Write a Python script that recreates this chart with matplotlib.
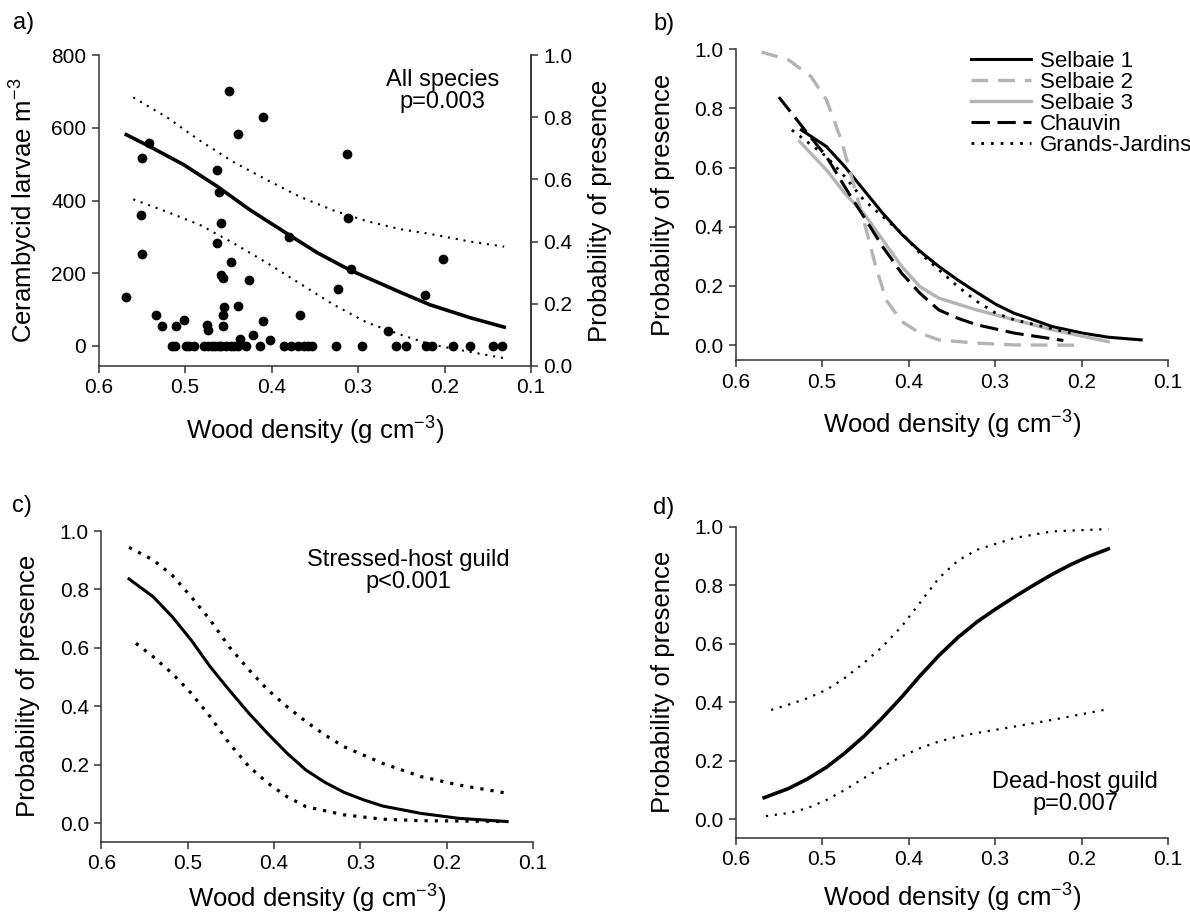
import numpy as np
import matplotlib
matplotlib.use("Agg")
import matplotlib.pyplot as plt

plt.rcParams['font.family'] = ['Liberation Sans', 'DejaVu Sans']
plt.rcParams['mathtext.default'] = 'regular'

# panel a - larvae counts vs wood density (scatter)
dens_a = [0.568, 0.542, 0.550, 0.551, 0.550, 0.534, 0.527, 0.510, 0.501, 0.475,
          0.473, 0.463, 0.461, 0.459, 0.463, 0.449, 0.439, 0.447, 0.458, 0.456,
          0.455, 0.456, 0.456, 0.439, 0.426, 0.436, 0.422, 0.410, 0.410, 0.402,
          0.380, 0.367, 0.323, 0.313, 0.312, 0.308, 0.265, 0.223, 0.202,
          # zero counts
          0.515, 0.512, 0.499, 0.495, 0.490, 0.478, 0.474, 0.469, 0.465, 0.461,
          0.458, 0.453, 0.447, 0.443, 0.439, 0.430, 0.413, 0.386, 0.378, 0.370,
          0.363, 0.358, 0.353, 0.326, 0.295, 0.256, 0.245, 0.221, 0.214, 0.190,
          0.170, 0.144, 0.133]
larvae_a = [135, 559, 518, 361, 252, 84, 54, 54, 71, 58,
            43, 484, 423, 337, 284, 700, 584, 230, 196, 186,
            107, 85, 55, 111, 182, 18, 29, 68, 631, 16,
            299, 84, 157, 528, 351, 212, 40, 141, 238,
            0, 0, 0, 0, 0, 0, 0, 0, 0, 0,
            0, 0, 0, 0, 0, 0, 0, 0, 0, 0,
            0, 0, 0, 0, 0, 0, 0, 0, 0, 0,
            0, 0, 0]

# panel a - probability of presence (right axis)
fit_a_x = [0.568, 0.541, 0.502, 0.463, 0.425, 0.380, 0.347, 0.309, 0.251, 0.217, 0.170, 0.131]
fit_a_y = [0.744, 0.706, 0.648, 0.578, 0.502, 0.422, 0.364, 0.308, 0.237, 0.197, 0.155, 0.125]
up_a_x = [0.560, 0.521, 0.483, 0.444, 0.405, 0.367, 0.328, 0.290, 0.251, 0.217, 0.170, 0.131]
up_a_y = [0.864, 0.800, 0.725, 0.656, 0.598, 0.544, 0.500, 0.466, 0.440, 0.425, 0.400, 0.384]
lo_a_x = [0.560, 0.521, 0.483, 0.444, 0.405, 0.370, 0.330, 0.290, 0.250, 0.217, 0.170, 0.131]
lo_a_y = [0.536, 0.496, 0.454, 0.395, 0.331, 0.270, 0.200, 0.140, 0.100, 0.070, 0.045, 0.025]

# panel b - sites
sites = ['Selbaie 1', 'Selbaie 2', 'Selbaie 3', 'Chauvin', 'Grands-Jardins']
s1_x = [0.524, 0.495, 0.474, 0.452, 0.430, 0.408, 0.387, 0.365, 0.343, 0.321, 0.299, 0.278, 0.256, 0.234, 0.199, 0.169, 0.131]
s1_y = [0.727, 0.671, 0.604, 0.525, 0.446, 0.375, 0.318, 0.266, 0.220, 0.178, 0.138, 0.108, 0.086, 0.063, 0.041, 0.027, 0.018]
s2_x = [0.570, 0.539, 0.513, 0.495, 0.478, 0.465, 0.452, 0.439, 0.426, 0.408, 0.387, 0.365, 0.321, 0.278, 0.208]
s2_y = [0.990, 0.964, 0.908, 0.829, 0.694, 0.559, 0.423, 0.277, 0.153, 0.080, 0.041, 0.018, 0.007, 0.001, 0.0]
s3_x = [0.526, 0.495, 0.474, 0.452, 0.430, 0.408, 0.387, 0.365, 0.321, 0.278, 0.234, 0.169]
s3_y = [0.688, 0.592, 0.514, 0.446, 0.356, 0.266, 0.198, 0.159, 0.119, 0.086, 0.052, 0.012]
ch_x = [0.550, 0.517, 0.495, 0.474, 0.452, 0.430, 0.408, 0.387, 0.365, 0.343, 0.321, 0.278, 0.221]
ch_y = [0.838, 0.716, 0.637, 0.536, 0.435, 0.333, 0.243, 0.176, 0.119, 0.091, 0.069, 0.041, 0.016]
gj_x = [0.535, 0.495, 0.474, 0.452, 0.430, 0.408, 0.387, 0.365, 0.343, 0.321, 0.299, 0.278, 0.212]
gj_y = [0.727, 0.637, 0.570, 0.491, 0.435, 0.378, 0.311, 0.255, 0.198, 0.148, 0.108, 0.086, 0.041]

# panel c - stressed-host guild
c_x = [0.568, 0.540, 0.518, 0.496, 0.474, 0.452, 0.429, 0.407, 0.385, 0.363, 0.341, 0.319, 0.296, 0.274, 0.230, 0.186, 0.130]
c_fit = [0.836, 0.775, 0.707, 0.627, 0.536, 0.456, 0.376, 0.306, 0.240, 0.182, 0.140, 0.106, 0.080, 0.059, 0.034, 0.017, 0.006]
c_up_x = [0.568, 0.540, 0.518, 0.496, 0.474, 0.452, 0.429, 0.407, 0.385, 0.363, 0.341, 0.319, 0.274, 0.230, 0.186, 0.130]
c_up = [0.944, 0.901, 0.849, 0.775, 0.696, 0.604, 0.525, 0.456, 0.399, 0.348, 0.302, 0.262, 0.205, 0.160, 0.131, 0.103]
c_lo_x = [0.560, 0.540, 0.518, 0.496, 0.474, 0.452, 0.429, 0.407, 0.385, 0.363, 0.319, 0.274, 0.230, 0.130]
c_lo = [0.616, 0.570, 0.513, 0.445, 0.365, 0.274, 0.194, 0.137, 0.091, 0.057, 0.029, 0.014, 0.009, 0.006]

# panel d - dead-host guild
d_x = [0.567, 0.539, 0.517, 0.495, 0.474, 0.452, 0.430, 0.408, 0.387, 0.365, 0.343, 0.321, 0.299, 0.278, 0.256, 0.234, 0.212, 0.191, 0.169]
d_fit = [0.074, 0.105, 0.138, 0.178, 0.226, 0.283, 0.348, 0.418, 0.490, 0.560, 0.622, 0.675, 0.720, 0.760, 0.800, 0.838, 0.872, 0.900, 0.925]
d_up_x = [0.559, 0.539, 0.517, 0.495, 0.474, 0.452, 0.430, 0.408, 0.387, 0.365, 0.343, 0.321, 0.278, 0.234, 0.169]
d_up = [0.374, 0.392, 0.414, 0.443, 0.483, 0.534, 0.591, 0.660, 0.740, 0.825, 0.885, 0.922, 0.962, 0.985, 0.993]
d_lo_x = [0.565, 0.539, 0.517, 0.495, 0.474, 0.452, 0.430, 0.408, 0.387, 0.365, 0.343, 0.321, 0.278, 0.234, 0.169]
d_lo = [0.011, 0.021, 0.038, 0.066, 0.100, 0.140, 0.180, 0.215, 0.243, 0.266, 0.283, 0.295, 0.317, 0.340, 0.377]

xticks = [0.6, 0.5, 0.4, 0.3, 0.2, 0.1]
pticks = [0.0, 0.2, 0.4, 0.6, 0.8, 1.0]
xlab = 'Wood density (g cm$^{-3}$)'
plab = 'Probability of presence'
grey = '#b4b4b4'
dot = (0, (1, 2.5))


def style(ax, right=False, xlab_y=-0.21):
    ax.set_xlim(0.6, 0.1)
    ax.set_xticks(xticks)
    ax.set_xticklabels(['%.1f' % t for t in xticks])
    for s in ['top', 'right']:
        ax.spines[s].set_visible(right and s == 'right')
    for s in ax.spines.values():
        s.set_color('#333333')
        s.set_linewidth(1.1)
    ax.tick_params(direction='out', length=5, width=1.1, labelsize=15, color='#333333', pad=4)
    ax.set_xlabel(xlab, fontsize=18.5)
    ax.xaxis.set_label_coords(0.5, xlab_y)
    ax.xaxis.label.set_va('center')


fig = plt.figure(figsize=(11.9, 9.17), dpi=100)

# ---- a)
ax = fig.add_axes([0.0829, 0.6009, 0.3633, 0.339])
style(ax, right=True)
ax.set_ylim(-55, 800)
ax.set_yticks([0, 200, 400, 600, 800])
ax.plot(dens_a, larvae_a, 'o', color='black', ms=6, zorder=3)
ax.set_ylabel('Cerambycid larvae m$^{-3}$', fontsize=18.5)
ax.yaxis.set_label_coords(-0.136, 0.5)
ax.text(0.796, 0.884, 'All species\np=0.003', transform=ax.transAxes,
        ha='center', va='center', fontsize=17, linespacing=1.0)
ax2 = ax.twinx()
ax2.set_ylim(0, 1)
ax2.set_yticks(pticks)
ax2.set_yticklabels(['%.1f' % t for t in pticks])
for s in ['top', 'left', 'bottom']:
    ax2.spines[s].set_visible(False)
ax2.spines['right'].set_color('#333333')
ax2.spines['right'].set_linewidth(1.1)
ax2.tick_params(direction='out', length=5, width=1.1, labelsize=15, color='#333333', pad=4)
ax2.plot(fit_a_x, fit_a_y, '-', color='black', lw=2.6)
ax2.plot(up_a_x, up_a_y, color='black', lw=1.5, linestyle=(0, (1, 2.8)))
ax2.plot(lo_a_x, lo_a_y, color='black', lw=1.5, linestyle=(0, (1, 2.8)))
ax2.set_ylabel(plab, fontsize=18.5)
ax2.yaxis.set_label_coords(1.132, 0.5)

# ---- b)
ax = fig.add_axes([0.6182, 0.6074, 0.3633, 0.339])
style(ax)
ax.set_ylim(-0.05, 1.0)
ax.set_yticks(pticks)
ax.set_yticklabels(['%.1f' % t for t in pticks])
ax.plot(s1_x, s1_y, '-', color='black', lw=2.2, label=sites[0])
ax.plot(s2_x, s2_y, color=grey, lw=2.4, linestyle=(0, (5, 3)), label=sites[1])
ax.plot(s3_x, s3_y, '-', color=grey, lw=2.4, label=sites[2])
ax.plot(ch_x, ch_y, color='black', lw=2.2, linestyle=(0, (6, 2.5)), label=sites[3])
ax.plot(gj_x, gj_y, color='black', lw=2.0, linestyle=dot, label=sites[4])
ax.set_ylabel(plab, fontsize=18.5)
ax.yaxis.set_label_coords(-0.14, 0.5)
ax.legend(loc='upper left', bbox_to_anchor=(0.544, 0.995), frameon=False,
          fontsize=16, handlelength=2.7, handletextpad=0.4, labelspacing=0.0,
          borderpad=0, borderaxespad=0)

# ---- c)
ax = fig.add_axes([0.0852, 0.0821, 0.3627, 0.3388])
style(ax, xlab_y=-0.185)
ax.set_ylim(-0.063, 1.0)
ax.set_yticks(pticks)
ax.set_yticklabels(['%.1f' % t for t in pticks])
ax.plot(c_x, c_fit, '-', color='black', lw=2.2)
ax.plot(c_up_x, c_up, color='black', lw=2.3, linestyle=(0, (1, 2.2)))
ax.plot(c_lo_x, c_lo, color='black', lw=2.3, linestyle=(0, (1, 2.2)))
ax.set_ylabel(plab, fontsize=18.5)
ax.yaxis.set_label_coords(-0.142, 0.5)
ax.text(0.712, 0.87, 'Stressed-host guild\np<0.001', transform=ax.transAxes,
        ha='center', va='center', fontsize=17, linespacing=1.0)

# ---- d)
ax = fig.add_axes([0.6182, 0.0865, 0.3633, 0.3388])
style(ax, xlab_y=-0.195)
ax.set_ylim(-0.063, 1.0)
ax.set_yticks(pticks)
ax.set_yticklabels(['%.1f' % t for t in pticks])
ax.plot(d_x, d_fit, '-', color='black', lw=2.6)
ax.plot(d_up_x, d_up, color='black', lw=1.6, linestyle=(0, (1, 3)))
ax.plot(d_lo_x, d_lo, color='black', lw=1.6, linestyle=(0, (1, 3)))
ax.set_ylabel(plab, fontsize=18.5)
ax.yaxis.set_label_coords(-0.14, 0.5)
ax.text(0.785, 0.145, 'Dead-host guild\np=0.007', transform=ax.transAxes,
        ha='center', va='center', fontsize=17, linespacing=1.0)

# panel letters
fig.text(24 / 1190, 1 - 23 / 917, 'a)', fontsize=17, ha='center', va='center')
fig.text(664 / 1190, 1 - 24 / 917, 'b)', fontsize=17, ha='center', va='center')
fig.text(22 / 1190, 1 - 506 / 917, 'c)', fontsize=17, ha='center', va='center')
fig.text(664 / 1190, 1 - 508 / 917, 'd)', fontsize=17, ha='center', va='center')

fig.savefig('out.png', dpi=100)
